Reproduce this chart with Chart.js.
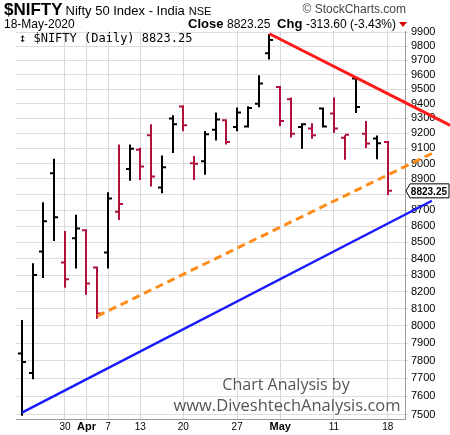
<!DOCTYPE html>
<html>
<head>
<meta charset="utf-8">
<script src="https://cdn.jsdelivr.net/npm/chart.js@4"></script>
<style>
  body { margin: 0; background: #fff; }
  #wrap { width: 450px; height: 435px; }
</style>
</head>
<body>
<div id="wrap"><canvas id="niftyChart"></canvas></div>
<script>
// daily OHLC, Mar 24 - May 18 2020
var dates = ['Mar 24','Mar 25','Mar 26','Mar 27','Mar 30','Mar 31','Apr 1','Apr 3','Apr 7','Apr 8',
  'Apr 9','Apr 13','Apr 15','Apr 16','Apr 17','Apr 20','Apr 21','Apr 22','Apr 23','Apr 24',
  'Apr 27','Apr 28','Apr 29','Apr 30','May 4','May 5','May 6','May 7','May 8','May 11',
  'May 12','May 13','May 14','May 15','May 18'];
var opens  = [7840,7730,8443,8937,8376,8524,8575,8345,8437,8690,8965,9090,9186,8845,9299,9380,9002,9015,9224,9287,9242,9246,9400,9750,9515,9430,9242,9231,9366,9333,9170,9573,9197,9165,9142];
var highs  = [8028,8366,8744,9025,8564,8665,8575,8345,8808,9119,9119,9097,9253,9046,9314,9382,9042,9208,9333,9287,9366,9375,9589,9880,9515,9435,9260,9260,9366,9435,9180,9573,9275,9178,9142];
var lows   = [7500,7701,8288,8514,8230,8345,8188,8047,8345,8645,8894,8900,8857,8814,9075,9220,8900,8933,9158,9131,9220,9246,9382,9714,9253,9179,9104,9170,9246,9208,9031,9343,9108,9035,8803];
var closes = [7792,8301,8630,8655,8275,8586,8249,8072,8775,8740,9097,8980,8915,8976,9260,9253,8998,9193,9292,9142,9340,9370,9538,9845,9282,9197,9260,9186,9246,9231,9190,9377,9131,9134,8823.25];

var tickIdx = [4, 6, 8, 11, 15, 20, 24, 29, 34];
var tickText = ['30', 'Apr', '7', '13', '20', '27', 'May', '11', '18'];
var priceTicks = [];
for (var p = 7500; p <= 9900; p += 100) priceTicks.push(p);

// trendlines [index, price]
var resistLine = [{x: 23, y: 9889}, {x: 39.8, y: 9253}];
var supportLine1 = [{x: 7, y: 8056}, {x: 38.1, y: 9066}];
var supportLine2 = [{x: 0, y: 7511}, {x: 38.1, y: 8760}];

var upColor = '#000000';
var downColor = '#b0103c';

function lineSet(data, color, width, dash) {
  return {
    data: data,
    borderColor: color,
    borderWidth: width,
    borderDash: dash || [],
    pointRadius: 0,
    showLine: true,
    clip: false
  };
}

var ohlcPlugin = {
  id: 'ohlc',
  beforeDatasetsDraw: function(chart) {
    var ctx = chart.ctx, xs = chart.scales.x, ys = chart.scales.y;
    ctx.save();
    ctx.lineWidth = 2;
    for (var i = 0; i < closes.length; i++) {
      var up = i === 0 ? true : closes[i] >= closes[i - 1];
      ctx.strokeStyle = up ? upColor : downColor;
      var x = Math.round(xs.getPixelForValue(i));
      ctx.beginPath();
      ctx.moveTo(x, ys.getPixelForValue(highs[i]) - 1);
      ctx.lineTo(x, ys.getPixelForValue(lows[i]) + 1);
      var yo = ys.getPixelForValue(opens[i]), yc = ys.getPixelForValue(closes[i]);
      ctx.moveTo(x - 4, yo); ctx.lineTo(x, yo);
      ctx.moveTo(x, yc); ctx.lineTo(x + 4, yc);
      ctx.stroke();
    }
    ctx.restore();
  },
  afterDraw: function(chart) {
    var ctx = chart.ctx, area = chart.chartArea, ys = chart.scales.y;
    ctx.save();
    ctx.fillStyle = '#000';
    ctx.textBaseline = 'alphabetic';
    ctx.font = 'bold 17px "Liberation Sans", Arial';
    ctx.fillText('$NIFTY', 4, 15);
    var w = ctx.measureText('$NIFTY').width;
    ctx.font = '13px "Liberation Sans", Arial';
    ctx.fillText('Nifty 50 Index - India', 7 + w, 15);
    var w2 = ctx.measureText('Nifty 50 Index - India').width;
    ctx.font = '11px "Liberation Sans", Arial';
    ctx.fillText('NSE', 11 + w + w2, 15);
    ctx.fillStyle = '#444';
    ctx.font = '12px "Liberation Sans", Arial';
    var sc = '\u00a9 StockCharts.com';
    ctx.fillText(sc, 406 - ctx.measureText(sc).width, 13);
    ctx.fillStyle = '#000';
    ctx.font = '12px "Liberation Sans", Arial';
    ctx.fillText('18-May-2020', 4, 28);
    // close / change line
    var parts = [['bold 13px "Liberation Sans", Arial', 'Close '], ['12px "Liberation Sans", Arial', '8823.25  '],
                 ['bold 13px "Liberation Sans", Arial', 'Chg '], ['12px "Liberation Sans", Arial', '-313.60 (-3.43%)']];
    var total = 0;
    parts.forEach(function(pt) { ctx.font = pt[0]; total += ctx.measureText(pt[1]).width; });
    var px = 396 - total;
    parts.forEach(function(pt) { ctx.font = pt[0]; ctx.fillText(pt[1], px, 28); px += ctx.measureText(pt[1]).width; });
    ctx.fillStyle = '#cc0000';
    ctx.beginPath(); ctx.moveTo(399, 22); ctx.lineTo(407, 22); ctx.lineTo(403, 27); ctx.fill();
    // legend inside chart
    ctx.fillStyle = '#000';
    ctx.font = '12px "DejaVu Sans Mono", monospace';
    ctx.fillText('\u2195 $NIFTY (Daily) 8823.25', area.left + 3, area.top + 11);
    // watermark
    ctx.fillStyle = '#555';
    ctx.textAlign = 'center';
    ctx.font = '16px "Open Sans", sans-serif';
    ctx.fillText('Chart Analysis by', 286, 390);
    ctx.font = '16.5px "Open Sans", sans-serif';
    ctx.fillText('www.DiveshtechAnalysis.com', 287, 411);
    // last price tag
    var yl = ys.getPixelForValue(closes[closes.length - 1]);
    ctx.fillStyle = '#fff';
    ctx.strokeStyle = '#000';
    ctx.lineWidth = 1;
    ctx.beginPath();
    ctx.moveTo(area.right + 1, yl);
    ctx.lineTo(area.right + 5, yl - 7);
    ctx.lineTo(449, yl - 7);
    ctx.lineTo(449, yl + 7);
    ctx.lineTo(area.right + 5, yl + 7);
    ctx.closePath();
    ctx.fill(); ctx.stroke();
    ctx.fillStyle = '#000';
    ctx.textAlign = 'right';
    ctx.textBaseline = 'middle';
    ctx.font = 'bold 10px "Liberation Sans", Arial';
    ctx.fillText('8823.25', 447, yl + 1);
    ctx.restore();
  }
};

new Chart(document.getElementById('niftyChart'), {
  type: 'scatter',
  data: {
    datasets: [
      lineSet(resistLine, '#ff1a1a', 3),
      lineSet(supportLine1, '#ff8c1a', 3, [8, 5]),
      lineSet(supportLine2, '#1a1aff', 2.5)
    ]
  },
  options: {
    responsive: true,
    maintainAspectRatio: false,
    animation: false,
    layout: { padding: { top: 31, left: 16, right: 0, bottom: 0 } },
    plugins: { legend: { display: false }, tooltip: { enabled: false } },
    scales: {
      x: {
        type: 'linear',
        min: -0.55,
        max: 35.6,
        afterBuildTicks: function(axis) { axis.ticks = tickIdx.map(function(v) { return { value: v }; }); },
        ticks: {
          autoSkip: false,
          maxRotation: 0,
          color: '#000',
          padding: 1,
          font: function(c) {
            var t = tickText[tickIdx.indexOf(c.tick && c.tick.value)];
            return (t === 'Apr' || t === 'May') ? { family: 'Liberation Sans', size: 11, weight: 'bold' } : { family: 'Liberation Sans', size: 10 };
          },
          callback: function(v) { var k = tickIdx.indexOf(v); return k >= 0 ? tickText[k] : ''; }
        },
        grid: { color: '#d8d8d8', drawTicks: false },
        border: { color: '#999' }
      },
      y: {
        type: 'logarithmic',
        position: 'right',
        min: 7472,
        max: 9909,
        afterBuildTicks: function(axis) { axis.ticks = priceTicks.map(function(v) { return { value: v }; }); },
        afterFit: function(axis) { axis.width = 45; },
        ticks: {
          autoSkip: false,
          color: '#000',
          padding: 3,
          font: { family: 'Liberation Sans', size: 11 },
          callback: function(v) { return String(v); }
        },
        grid: { color: '#dcdcdc', tickLength: 3 },
        border: { color: '#999' }
      }
    }
  },
  plugins: [ohlcPlugin]
});
</script>
</body>
</html>
